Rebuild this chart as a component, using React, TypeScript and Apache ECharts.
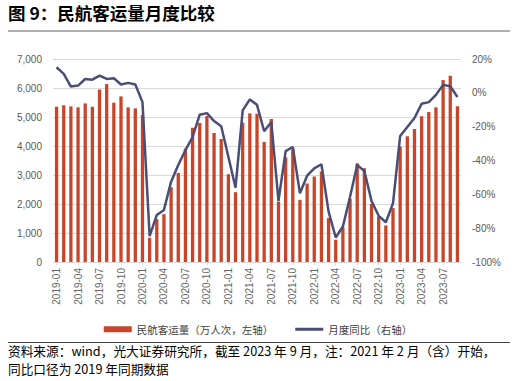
import React, { useEffect, useRef } from "react";
import * as echarts from "echarts";

const categories: string[] = [];
for (let y = 2019; y <= 2023; y++) {
  for (let m = 1; m <= 12; m++) {
    if (y === 2023 && m > 9) break;
    categories.push(`${y}-${m < 10 ? "0" + m : m}`);
  }
}

const passengers = [
  5356, 5401, 5367, 5333, 5470, 5356, 5952, 6135, 5493, 5711, 5333, 5298,
  5069, 837, 1479, 1651, 2580, 3073, 3911, 4633, 4794, 5034, 4450, 4243,
  3028, 2408, 4805, 5126, 5115, 4140, 4931, 2087, 3612, 3880, 2144, 2706,
  2947, 3119, 1514, 768, 1193, 2179, 3406, 3234, 2007, 1571, 1261, 1858,
  3979, 4335, 4587, 5023, 5172, 5333, 6273, 6422, 5367,
];

const yoy = [
  15.1, 11.2, 3.7, 4.3, 8.2, 7.8, 10.2, 8.2, 8.6, 4.9, 5.9, 4.9,
  -5.5, -84.7, -72.2, -69.2, -52.5, -42.7, -33.9, -26.1, -12.9, -12.0, -16.7, -19.8,
  -37.8, -56.1, -10.4, -3.9, -7.1, -22.7, -17.3, -63.9, -34.5, -32.0, -59.4, -49.0,
  -44.7, -42.2, -70.2, -85.5, -79.0, -61.4, -42.7, -46.3, -63.9, -72.7, -76.5, -65.3,
  -25.5, -20.2, -14.9, -6.5, -5.5, -1.2, 4.7, 3.9, -2.5,
];

const barName = "民航客运量（万人次，左轴）";
const lineName = "月度同比（右轴）";
const titleText = "图 9：民航客运量月度比较";
const sourceLine1 = "资料来源：wind，光大证券研究所，截至 2023 年 9 月，注：2021 年 2 月（含）开始，";
const sourceLine2 = "同比口径为 2019 年同期数据";

const FONT = "'Liberation Sans', 'Noto Sans CJK SC', sans-serif";
const CJK = "'Noto Sans CJK SC', 'Liberation Sans', sans-serif";

export default function App() {
  const ref = useRef<HTMLDivElement>(null);
  useEffect(() => {
    document.body.style.margin = "0";
    const chart = echarts.init(ref.current!, undefined, { renderer: "svg" });
    chart.setOption({
      animation: false,
      backgroundColor: "#ffffff",
      textStyle: { fontFamily: FONT },
      grid: { left: 53, right: 55, top: 59, bottom: 119, containLabel: false },
      legend: {
        top: 319,
        left: "center",
        itemGap: 22,
        itemWidth: 28,
        itemHeight: 6,
        textStyle: { fontSize: 10.5, color: "#404040", fontFamily: CJK },
        data: [
          { name: barName, icon: "rect" },
          { name: lineName, icon: "path://M0,0 H28 V3 H0 Z" },
        ],
      },
      xAxis: {
        type: "category",
        data: categories,
        boundaryGap: true,
        axisLine: { lineStyle: { color: "#d9d9d9" } },
        axisTick: { show: true, interval: 2, length: 3, alignWithLabel: true, lineStyle: { color: "#d9d9d9" } },
        axisLabel: { interval: 2, rotate: 90, fontSize: 10, color: "#666666", margin: 6 },
      },
      yAxis: [
        {
          type: "value",
          min: 0,
          max: 7000,
          interval: 1000,
          axisLine: { show: false },
          axisTick: { show: false },
          splitLine: { lineStyle: { color: "#d9d9d9", width: 1 } },
          axisLabel: {
            fontSize: 10,
            color: "#595959",
            margin: 11,
            formatter: (v: number) => v.toLocaleString("en-US"),
          },
        },
        {
          type: "value",
          min: -100,
          max: 20,
          interval: 20,
          axisLine: { show: false },
          axisTick: { show: false },
          splitLine: { show: false },
          axisLabel: { fontSize: 10, color: "#595959", margin: 11, formatter: (v: number) => `${v}%` },
        },
      ],
      series: [
        {
          name: barName,
          type: "bar",
          data: passengers,
          barWidth: "46%",
          itemStyle: { color: "#c9452a" },
          yAxisIndex: 0,
        },
        {
          name: lineName,
          type: "line",
          data: yoy,
          yAxisIndex: 1,
          symbol: "none",
          lineStyle: { color: "#4b4e74", width: 2.5 },
          itemStyle: { color: "#4b4e74" },
          z: 5,
        },
      ],
      graphic: [
        {
          type: "text",
          left: 8,
          top: 4,
          style: { text: titleText, fontSize: 17.5, fontWeight: "bold", fill: "#000", fontFamily: CJK },
        },
        {
          type: "line",
          shape: { x1: 8, y1: 31, x2: 510, y2: 31 },
          style: { stroke: "#606060", lineWidth: 1.2 },
        },
        {
          type: "line",
          shape: { x1: 8, y1: 342.5, x2: 510, y2: 342.5 },
          style: { stroke: "#404040", lineWidth: 1 },
        },
        {
          type: "text",
          left: 8,
          top: 344,
          style: { text: sourceLine1, fontSize: 12.7, fill: "#000", fontFamily: CJK },
        },
        {
          type: "text",
          left: 8,
          top: 362,
          style: { text: sourceLine2, fontSize: 12.7, fill: "#000", fontFamily: CJK },
        },
      ],
    });
    return () => chart.dispose();
  }, []);
  return <div ref={ref} style={{ width: 516, height: 381 }} />;
}
